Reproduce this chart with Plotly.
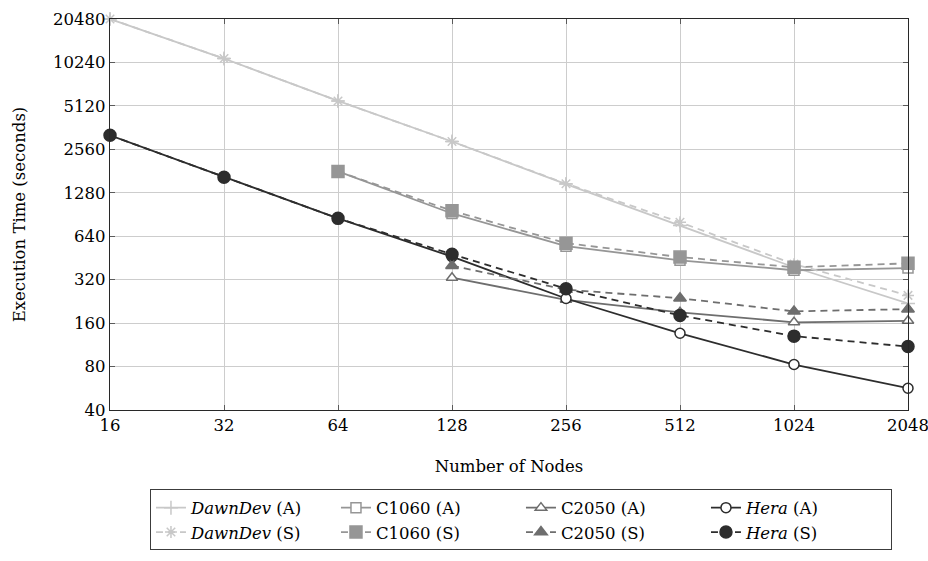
import math
import plotly.graph_objects as go

# ---- data ----
nodes_all = [16, 32, 64, 128, 256, 512, 1024, 2048]
nodes_c1060 = [64, 128, 256, 512, 1024, 2048]
nodes_c2050 = [128, 256, 512, 1024, 2048]

dawn_a = [20480, 10900, 5540, 2900, 1470, 760, 390, 219]
dawn_s = [20480, 10900, 5540, 2900, 1480, 800, 410, 249]
c1060_a = [1800, 920, 546, 436, 372, 385]
c1060_s = [1800, 960, 573, 459, 390, 415]
c2050_a = [330, 232, 190, 162, 166]
c2050_s = [400, 273, 238, 193, 200]
hera_a = [3200, 1640, 851, 462, 237, 136, 82.6, 56.6]
hera_s = [3200, 1640, 851, 480, 277, 181, 130, 110]

x_ticks = [16, 32, 64, 128, 256, 512, 1024, 2048]
y_ticks = [40, 80, 160, 320, 640, 1280, 2560, 5120, 10240, 20480]

C_DAWN = "rgb(200,200,200)"
C_1060 = "rgb(150,150,150)"
C_2050 = "rgb(110,110,110)"
C_HERA = "rgb(45,45,45)"
DASH = "7px,5px"
FONT = "DejaVu Serif"

fig = go.Figure()

def add(x, y, name, color, dash, symbol, filled, size):
    fig.add_trace(go.Scatter(
        x=x, y=y, name=name, mode="lines+markers",
        line=dict(color=color, width=1.8, dash=dash),
        marker=dict(symbol=symbol, size=size,
                    color=color if filled else "white",
                    line=dict(color=color, width=1.5)),
        cliponaxis=False,
    ))

# row 1 of legend (A), row 2 (S)
add(nodes_all, dawn_a, "<i>DawnDev</i> (A)", C_DAWN, "solid", "cross-thin", False, 10)
add(nodes_c1060, c1060_a, "C1060 (A)", C_1060, "solid", "square", False, 10)
add(nodes_c2050, c2050_a, "C2050 (A)", C_2050, "solid", "triangle-up", False, 10)
add(nodes_all, hera_a, "<i>Hera</i> (A)", C_HERA, "solid", "circle", False, 10)
add(nodes_all, dawn_s, "<i>DawnDev</i> (S)", C_DAWN, DASH, "asterisk", False, 10)
add(nodes_c1060, c1060_s, "C1060 (S)", C_1060, DASH, "square", True, 12)
add(nodes_c2050, c2050_s, "C2050 (S)", C_2050, DASH, "triangle-up", True, 11)
add(nodes_all, hera_s, "<i>Hera</i> (S)", C_HERA, DASH, "circle", True, 12)

eps = 1e-6
x_range = [math.log10(x_ticks[0]) - eps, math.log10(x_ticks[-1]) + eps]
y_range = [math.log10(y_ticks[0]) - eps, math.log10(y_ticks[-1]) + eps]

axis_common = dict(
    showgrid=True, gridcolor="rgb(205,205,205)", gridwidth=1,
    showline=True, linecolor="rgb(40,40,40)", linewidth=1.2,
    mirror="allticks", ticks="inside", ticklen=5, tickcolor="rgb(90,90,90)",
    zeroline=False, ticklabeloverflow="allow",
    tickfont=dict(family=FONT, size=16.5, color="black"),
)

fig.update_layout(
    width=928, height=561,
    margin=dict(l=110, r=20, t=19, b=150),
    paper_bgcolor="white", plot_bgcolor="white",
    font=dict(family=FONT, size=16, color="black"),
    xaxis=dict(type="log", range=x_range,
               tickvals=x_ticks, ticktext=[str(v) for v in x_ticks],
               title=dict(text="Number of Nodes", font=dict(family=FONT, size=16.5), standoff=26),
               automargin=False, **axis_common),
    yaxis=dict(type="log", range=y_range,
               tickvals=y_ticks, ticktext=[str(v) for v in y_ticks],
               title=dict(text="Execution Time (seconds)", font=dict(family=FONT, size=16.5), standoff=23),
               automargin=False, **axis_common),
    legend=dict(orientation="h", x=0.515, xanchor="center", y=-0.2, yanchor="top",
                bordercolor="rgb(60,60,60)", borderwidth=1, bgcolor="white",
                font=dict(family=FONT, size=16.5), entrywidth=140, entrywidthmode="pixels",
                tracegroupgap=0, traceorder="normal"),
    showlegend=True,
)

fig.write_html("out.html")
